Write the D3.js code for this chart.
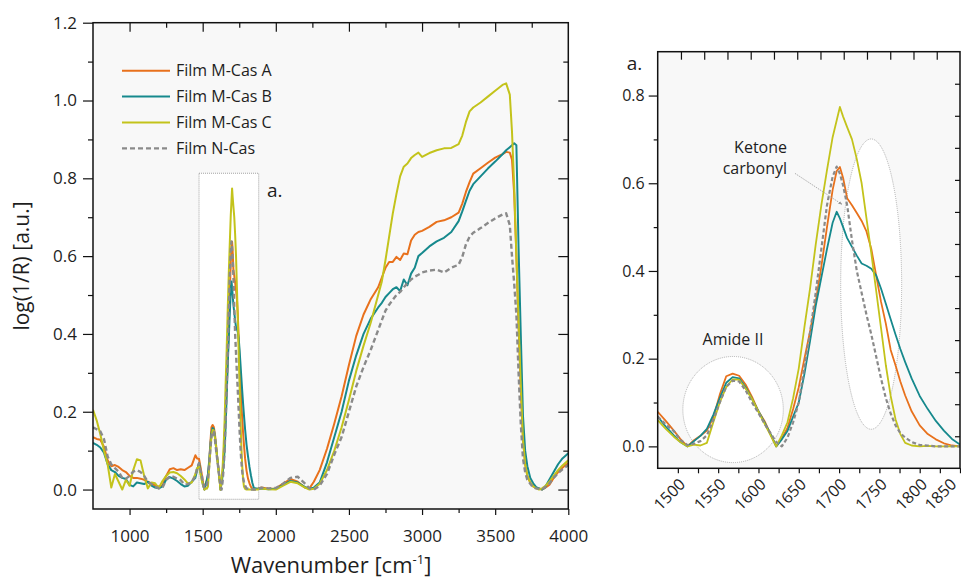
<!DOCTYPE html>
<html><head><meta charset="utf-8">
<script src="https://cdn.jsdelivr.net/npm/d3@7"></script>
<style>
body{margin:0;background:#fff}
svg{display:block}
text{font-family:"Open Sans","Noto Sans",sans-serif;fill:#1e1e1e}
</style>
</head><body>
<svg id="chart" width="961" height="580"></svg>
<script>
// ---------------- DATA ----------------
const wavenumbers = [
  750, 775, 800, 825, 850, 875, 900, 925, 950, 975,
  1000, 1025, 1050, 1075, 1100, 1125, 1150, 1175, 1200, 1225,
  1250, 1275, 1300, 1325, 1350, 1375, 1400, 1425, 1450, 1462,
  1475, 1485, 1495, 1503, 1512, 1520, 1528, 1536, 1544, 1552,
  1560, 1568, 1576, 1584, 1592, 1600, 1608, 1615, 1622, 1629,
  1636, 1643, 1650, 1657, 1664, 1671, 1678, 1685, 1692, 1697,
  1701, 1705, 1710, 1716, 1722, 1728, 1734, 1740, 1746, 1752,
  1758, 1764, 1770, 1776, 1782, 1790, 1800, 1810, 1820, 1830,
  1840, 1850,
  1875, 1900, 1950, 2000, 2050, 2100, 2150, 2200, 2230, 2260,
  2300, 2350, 2400, 2450, 2500, 2550, 2600, 2650, 2700, 2725,
  2750, 2775, 2800, 2825, 2850, 2875, 2900, 2925, 2950, 2975,
  3000, 3050, 3100, 3150, 3200, 3250, 3275, 3300, 3325, 3350,
  3400, 3450, 3500, 3550, 3575, 3600, 3615, 3630, 3645, 3660,
  3675, 3690, 3705, 3720, 3740, 3760, 3780, 3800, 3820, 3840,
  3870, 3900, 3930, 3960, 4000
];
const filmA = [
  .135, .13, .128, .11, .075, .06, .063, .058, .05, .045,
  .035, .03, .03, .028, .025, .02, .016, .01, .008, .01,
  .035, .052, .055, .05, .052, .05, .056, .062, .088, .08,
  .079, .058, .036, .017, .0, .014, .024, .036, .066, .118,
  .16, .166, .161, .141, .113, .08, .056, .028, .0, .018,
  .042, .085, .135, .2, .262, .33, .41, .5, .585, .628,
  .637, .612, .566, .55, .532, .514, .49, .45, .39, .33,
  .28, .22, .185, .148, .116, .08, .048, .028, .016, .007,
  .002, .0,
  .002, .005, .002, .003, .015, .027, .02, .005, .003, .02,
  .05, .105, .17, .24, .32, .395, .45, .49, .52, .545,
  .57, .585, .585, .598, .59, .607, .605, .64, .655, .662,
  .665, .675, .688, .692, .7, .712, .735, .765, .79, .812,
  .826, .84, .853, .862, .868, .866, .848, .76, .6, .42,
  .26, .13, .065, .035, .018, .008, .004, .002, .0, .004,
  .012, .03, .045, .056, .068
];
const filmB = [
  .12, .115, .108, .095, .065, .05, .045, .035, .03, .027,
  .012, .008, .018, .016, .014, .02, .01, .005, .003, .008,
  .025, .032, .028, .022, .014, .008, .01, .02, .03, .05,
  .068, .045, .025, .01, .0, .012, .024, .04, .072, .11,
  .145, .158, .155, .135, .108, .08, .053, .028, .0, .016,
  .035, .068, .1, .165, .24, .32, .385, .45, .51, .535,
  .52, .5, .475, .455, .435, .417, .412, .405, .39, .36,
  .325, .29, .255, .222, .192, .155, .115, .085, .058, .036,
  .017, .004,
  .002, .003, .001, .002, .012, .022, .018, .006, .002, .005,
  .018, .07, .135, .2, .28, .345, .4, .44, .468, .48,
  .495, .505, .515, .52, .51, .54, .525, .555, .57, .6,
  .608, .625, .638, .647, .662, .69, .715, .742, .768, .785,
  .805, .825, .843, .862, .872, .88, .885, .89, .885, .62,
  .4, .19, .1, .06, .03, .016, .006, .003, .0, .005,
  .025, .045, .065, .08, .093
];
const filmC = [
  .205, .178, .142, .1, .065, .005, .04, .02, .0, .025,
  .01, .05, .078, .075, .035, .003, .018, .016, .004, .022,
  .035, .044, .045, .042, .035, .026, .015, .018, .04, .055,
  .06, .04, .022, .01, .0, .004, .002, .008, .055, .1,
  .135, .153, .152, .132, .108, .079, .05, .025, .0, .025,
  .055, .11, .178, .272, .36, .46, .55, .63, .705, .743,
  .774, .752, .728, .7, .655, .6, .52, .44, .355, .27,
  .185, .115, .062, .028, .008, .002, .0, .001, .0, .0,
  .0, .0,
  .0, .003, .001, .0, .01, .02, .016, .005, .0, .002,
  .015, .05, .1, .16, .23, .305, .37, .43, .5, .535,
  .59, .65, .71, .76, .805, .83, .838, .852, .86, .866,
  .855, .865, .872, .877, .878, .888, .91, .945, .972, .982,
  .995, 1.01, 1.025, 1.04, 1.044, 1.015, .92, .78, .6, .43,
  .27, .13, .065, .035, .018, .008, .003, .0, .003, .008,
  .02, .035, .05, .062, .075
];
const filmN = [
  .16, .155, .15, .13, .085, .065, .055, .046, .03, .028,
  .035, .046, .05, .045, .035, .02, .014, .008, .003, .005,
  .025, .034, .033, .028, .024, .013, .014, .02, .035, .055,
  .068, .05, .035, .015, .003, .006, .012, .025, .06, .1,
  .136, .15, .148, .128, .1, .076, .05, .03, .01, .0,
  .02, .055, .1, .18, .26, .35, .45, .55, .615, .638,
  .622, .595, .55, .47, .4, .35, .3, .255, .205, .155,
  .11, .075, .048, .03, .02, .01, .003, .002, .0, .0,
  .0, .0,
  .0, .005, .003, .004, .015, .03, .033, .015, .003, .0,
  .01, .04, .09, .135, .2, .265, .315, .36, .41, .435,
  .46, .475, .488, .5, .508, .52, .53, .54, .547, .552,
  .558, .563, .565, .558, .57, .578, .598, .63, .65, .66,
  .672, .685, .697, .707, .71, .68, .6, .53, .45, .3,
  .17, .08, .045, .025, .015, .005, .003, .002, .0, .006,
  .015, .03, .042, .052, .063
];
const seriesNames = ["Film M-Cas A", "Film M-Cas B", "Film M-Cas C", "Film N-Cas"];
const seriesColors = ["#e8711c", "#16898d", "#c3c31b", "#8a8a8a"];
const seriesDash = [null, null, null, "5,3"];

const mainXTicks = [1000, 1500, 2000, 2500, 3000, 3500, 4000];
const mainXMinor = [1250, 1750, 2250, 2750, 3250, 3750];
const mainYTicks = [0.0, 0.2, 0.4, 0.6, 0.8, 1.0, 1.2];
const mainYMinor = [0.1, 0.3, 0.5, 0.7, 0.9, 1.1];
const insetXTicks = [1500, 1550, 1600, 1650, 1700, 1750, 1800, 1850];
const insetXMinor = [1525, 1575, 1625, 1675, 1725, 1775, 1825];
const insetYTicks = [0.0, 0.2, 0.4, 0.6, 0.8];
const insetYMinor = [0.1, 0.3, 0.5, 0.7];
const insetSecondaryTicks = [1, 2, 3, 4, 5, 6, 7, 8, 9, 10, 11, 12];

// ---------------- DRAWING ----------------
const svg = d3.select("#chart");
const seriesVals = [filmA, filmB, filmC, filmN];
const seriesData = seriesVals.map(vals => wavenumbers.map((w, i) => ({ w: w, v: vals[i] })));

function styleAxis(g, fs) {
  g.attr("font-family", null).attr("font-size", null);
  g.select(".domain").remove();
  g.selectAll(".tick line").attr("stroke", "#111").attr("stroke-width", 1.2);
  g.selectAll(".tick text").attr("fill", "#1e1e1e").style("font-size", fs + "px");
}

// ===== Main panel =====
const M = { l: 93, r: 568.3, t: 22.7, b: 509 };
const xM = d3.scaleLinear().domain([750, 4000]).range([M.l, M.r]);
const yM = d3.scaleLinear().domain([-0.05, 1.2]).range([M.b, M.t]);

svg.append("rect").attr("x", M.l).attr("y", M.t).attr("width", M.r - M.l).attr("height", M.b - M.t).attr("fill", "#f8f8f8");

svg.append("defs").append("clipPath").attr("id", "clipM").append("rect")
  .attr("x", M.l).attr("y", M.t).attr("width", M.r - M.l).attr("height", M.b - M.t);

// zoom box
svg.append("rect")
  .attr("x", xM(1475)).attr("y", yM(0.813))
  .attr("width", xM(1883) - xM(1475)).attr("height", yM(-0.025) - yM(0.813))
  .attr("fill", "#fff").attr("stroke", "#9a9a9a").attr("stroke-width", 0.9).attr("stroke-dasharray", "1,1");

svg.append("text").attr("x", xM(1940)).attr("y", yM(0.752)).style("font-size", "19px").text("a.");

const lineM = d3.line().x(d => xM(d.w)).y(d => yM(d.v));
const gM = svg.append("g").attr("clip-path", "url(#clipM)");
seriesData.forEach((d, i) => {
  gM.append("path").datum(d).attr("d", lineM).attr("fill", "none")
    .attr("stroke", seriesColors[i]).attr("stroke-width", i === 3 ? 2.4 : 2)
    .attr("stroke-linejoin", "round")
    .attr("stroke-dasharray", seriesDash[i]);
});

// axes main
let g;
g = svg.append("g").attr("transform", `translate(0,${M.b})`)
  .call(d3.axisBottom(xM).tickValues(mainXTicks).tickSize(6).tickPadding(15).tickFormat(d3.format("d")));
styleAxis(g, 17);
g = svg.append("g").attr("transform", `translate(0,${M.b})`)
  .call(d3.axisBottom(xM).tickValues(mainXMinor).tickSize(4).tickFormat(""));
styleAxis(g, 17);
g = svg.append("g").attr("transform", `translate(0,${M.t})`)
  .call(d3.axisTop(xM).tickValues(mainXTicks.filter(v => v < 4000)).tickSize(-9).tickFormat(""));
styleAxis(g, 17);
g = svg.append("g").attr("transform", `translate(0,${M.t})`)
  .call(d3.axisTop(xM).tickValues(mainXMinor).tickSize(-5).tickFormat(""));
styleAxis(g, 17);
g = svg.append("g").attr("transform", `translate(${M.l},0)`)
  .call(d3.axisLeft(yM).tickValues(mainYTicks).tickSize(10).tickPadding(6).tickFormat(d3.format(".1f")));
styleAxis(g, 17);
g = svg.append("g").attr("transform", `translate(${M.l},0)`)
  .call(d3.axisLeft(yM).tickValues(mainYMinor).tickSize(5).tickFormat(""));
styleAxis(g, 17);
g = svg.append("g").attr("transform", `translate(${M.r},0)`)
  .call(d3.axisRight(yM).tickValues(mainYTicks.filter(v => v < 1.2 && v > 0)).tickSize(-10).tickFormat(""));
styleAxis(g, 17);
g = svg.append("g").attr("transform", `translate(${M.r},0)`)
  .call(d3.axisRight(yM).tickValues(mainYMinor).tickSize(-5).tickFormat(""));
styleAxis(g, 17);
g = svg.append("g").attr("transform", `translate(${M.r},0)`)
  .call(d3.axisRight(yM).tickValues([0]).tickSize(-10).tickFormat(""));
styleAxis(g, 17);

svg.append("rect").attr("x", M.l).attr("y", M.t).attr("width", M.r - M.l).attr("height", M.b - M.t)
  .attr("fill", "none").attr("stroke", "#111").attr("stroke-width", 1.5);

// legend
const leg = svg.append("g");
seriesNames.forEach((name, i) => {
  const yy = 70.7 + i * 25.9;
  leg.append("line").attr("x1", 122).attr("x2", 170).attr("y1", yy).attr("y2", yy)
    .attr("stroke", seriesColors[i]).attr("stroke-width", i === 3 ? 2.4 : 2)
    .attr("stroke-dasharray", seriesDash[i]);
  leg.append("text").attr("x", 176).attr("y", yy).attr("dy", "0.35em").style("font-size", "16px").text(name);
});

// axis titles
svg.append("text").attr("transform", "translate(29,266) rotate(-90)").attr("text-anchor", "middle")
  .style("font-size", "21px").text("log(1/R) [a.u.]");
const xt = svg.append("text").attr("x", 331).attr("y", 573).attr("text-anchor", "middle").style("font-size", "22px");
xt.append("tspan").text("Wavenumber [cm");
xt.append("tspan").attr("dy", -9).style("font-size", "13px").text("-1");
xt.append("tspan").attr("dy", 9).text("]");

// ===== Inset panel =====
const I = { l: 657.7, r: 960, t: 51.7, b: 468.3 };
const xI = d3.scaleLinear().domain([1475, 1850]).range([I.l, I.r]);
const yI = d3.scaleLinear().domain([-0.05, 0.9]).range([I.b, I.t]);
const xI2 = d3.scaleLinear().domain([0, 13]).range([I.l, I.r]);
const yI2 = d3.scaleLinear().domain([0, 13]).range([I.b, I.t]);

svg.append("rect").attr("x", I.l).attr("y", I.t).attr("width", I.r - I.l).attr("height", I.b - I.t).attr("fill", "#f8f8f8");
svg.select("defs").append("clipPath").attr("id", "clipI").append("rect")
  .attr("x", I.l).attr("y", I.t).attr("width", I.r - I.l).attr("height", I.b - I.t);

const gIa = svg.append("g").attr("clip-path", "url(#clipI)");
// annotation shapes
gIa.append("ellipse").attr("cx", xI(1568.5)).attr("cy", yI(0.084))
  .attr("rx", xI(1568.5 + 62.3) - xI(1568.5)).attr("ry", yI(0.084) - yI(0.205))
  .attr("fill", "#fff").attr("stroke", "#a8a8a8").attr("stroke-width", 0.9).attr("stroke-dasharray", "1,1");
gIa.append("ellipse").attr("cx", xI(1739.8)).attr("cy", yI(0.370))
  .attr("rx", xI(1739.8 + 37.8) - xI(1739.8)).attr("ry", yI(0.370) - yI(0.701))
  .attr("fill", "#fff").attr("stroke", "#a8a8a8").attr("stroke-width", 0.9).attr("stroke-dasharray", "1,1");

const lineI = d3.line().x(d => xI(d.w)).y(d => yI(d.v));
seriesData.forEach((d, i) => {
  gIa.append("path").datum(d.filter(p => p.w >= 1465 && p.w <= 1860)).attr("d", lineI).attr("fill", "none")
    .attr("stroke", seriesColors[i]).attr("stroke-width", i === 3 ? 2.2 : 1.8)
    .attr("stroke-linejoin", "round")
    .attr("stroke-dasharray", seriesDash[i] ? "4,2.5" : null);
});

// annotation texts
svg.append("text").attr("x", xI(1635.4)).attr("y", yI(0.670)).attr("text-anchor", "end").style("font-size", "16px").text("Ketone");
svg.append("text").attr("x", xI(1635.4)).attr("y", yI(0.622)).attr("text-anchor", "end").style("font-size", "16px").text("carbonyl");
svg.append("defs").append("marker").attr("id", "arr").attr("viewBox", "0 0 10 10").attr("refX", 9).attr("refY", 5)
  .attr("markerWidth", 5).attr("markerHeight", 5).attr("orient", "auto")
  .append("path").attr("d", "M0,1 L10,5 L0,9 z").attr("fill", "#999");
svg.append("line").attr("x1", xI(1645.3)).attr("y1", yI(0.6225)).attr("x2", xI(1703.6)).attr("y2", yI(0.552))
  .attr("stroke", "#999").attr("stroke-width", 0.8).attr("stroke-dasharray", "1.5,1").attr("marker-end", "url(#arr)");
svg.append("text").attr("x", xI(1568.4)).attr("y", yI(0.231)).attr("text-anchor", "middle").style("font-size", "16px").text("Amide II");
svg.append("text").attr("x", I.l - 31).attr("y", I.t + 18).style("font-size", "19px").text("a.");

// axes inset
g = svg.append("g").attr("transform", `translate(0,${I.b})`)
  .call(d3.axisBottom(xI).tickValues(insetXTicks).tickSize(5).tickFormat(d3.format("d")));
styleAxis(g, 16);
g.selectAll(".tick text").attr("text-anchor", "end").attr("y", 0).attr("dy", "0.35em")
  .attr("transform", (d, i, n) => i === n.length - 1 ? "translate(-7,13) rotate(-45)" : "translate(4,13) rotate(-45)");
g = svg.append("g").attr("transform", `translate(0,${I.b})`)
  .call(d3.axisBottom(xI).tickValues(insetXMinor).tickSize(5).tickFormat(""));
styleAxis(g, 16);
g = svg.append("g").attr("transform", `translate(${I.l},0)`)
  .call(d3.axisLeft(yI).tickValues(insetYTicks).tickSize(9).tickPadding(4).tickFormat(d3.format(".1f")));
styleAxis(g, 16);
g = svg.append("g").attr("transform", `translate(${I.l},0)`)
  .call(d3.axisLeft(yI).tickValues(insetYMinor).tickSize(4).tickFormat(""));
styleAxis(g, 16);
g = svg.append("g").attr("transform", `translate(0,${I.t})`)
  .call(d3.axisTop(xI2).tickValues(insetSecondaryTicks).tickSize(-8).tickFormat(""));
styleAxis(g, 16);
g = svg.append("g").attr("transform", `translate(${I.r},0)`)
  .call(d3.axisRight(yI2).tickValues(insetSecondaryTicks).tickSize(-5).tickFormat(""));
styleAxis(g, 16);

svg.append("rect").attr("x", I.l).attr("y", I.t).attr("width", I.r - I.l).attr("height", I.b - I.t)
  .attr("fill", "none").attr("stroke", "#111").attr("stroke-width", 1.5);
</script>
</body></html>
